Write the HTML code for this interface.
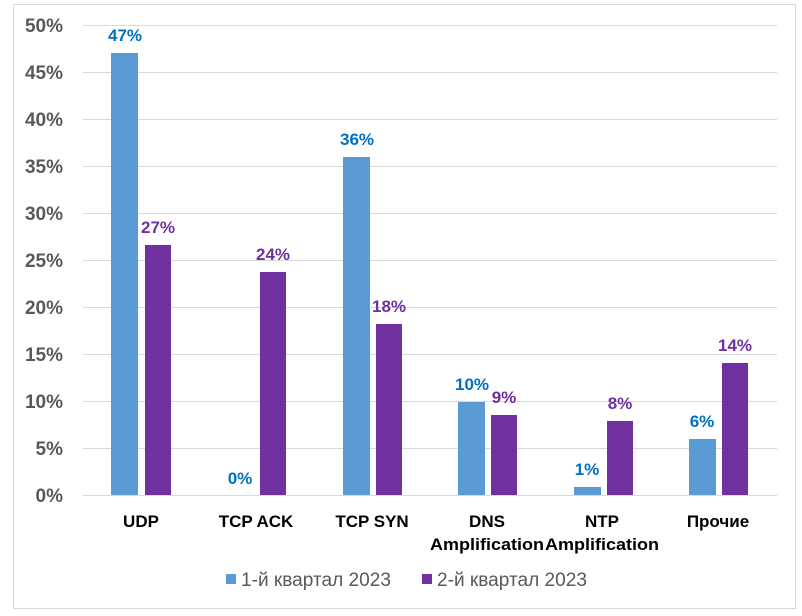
<!DOCTYPE html>
<html><head><meta charset="utf-8"><style>body{margin:0;background:#fff}svg{display:block}</style></head><body>
<svg width="802" height="616" xmlns="http://www.w3.org/2000/svg" font-family="'Liberation Sans', sans-serif">
<rect x="13.5" y="4.5" width="782" height="604" fill="#fff" stroke="#d9d9d9"/>
<g stroke="#d9d9d9" stroke-width="1">
<line x1="83" x2="777" y1="25.5" y2="25.5"/><line x1="83" x2="777" y1="72.5" y2="72.5"/>
<line x1="83" x2="777" y1="119.5" y2="119.5"/><line x1="83" x2="777" y1="166.5" y2="166.5"/>
<line x1="83" x2="777" y1="213.5" y2="213.5"/><line x1="83" x2="777" y1="260.5" y2="260.5"/>
<line x1="83" x2="777" y1="307.5" y2="307.5"/><line x1="83" x2="777" y1="354.5" y2="354.5"/>
<line x1="83" x2="777" y1="401.5" y2="401.5"/><line x1="83" x2="777" y1="448.5" y2="448.5"/>
<line x1="83" x2="777" y1="495.5" y2="495.5"/>
</g>
<g fill="#595959" font-weight="bold" font-size="19" text-anchor="end">
<text x="63" y="32">50%</text><text x="63" y="79">45%</text><text x="63" y="126">40%</text>
<text x="63" y="173">35%</text><text x="63" y="220">30%</text><text x="63" y="267">25%</text>
<text x="63" y="314">20%</text><text x="63" y="361">15%</text><text x="63" y="408">10%</text>
<text x="63" y="455">5%</text><text x="63" y="502">0%</text>
</g>
<g fill="#5b9bd5">
<rect x="111" y="53" width="27" height="442"/>
<rect x="343" y="157" width="27" height="338"/>
<rect x="458" y="402" width="27" height="93"/>
<rect x="574" y="487" width="27" height="8"/>
<rect x="689" y="439" width="27" height="56"/>
</g>
<g fill="#7030a0">
<rect x="145" y="245" width="26" height="250"/>
<rect x="260" y="272" width="26" height="223"/>
<rect x="376" y="324" width="26" height="171"/>
<rect x="491" y="415" width="26" height="80"/>
<rect x="607" y="421" width="26" height="74"/>
<rect x="722" y="363" width="26" height="132"/>
</g>
<g font-weight="bold" font-size="17" text-anchor="middle" fill="#0070c0">
<text x="125" y="41">47%</text><text x="240" y="484">0%</text><text x="357" y="145">36%</text>
<text x="472" y="390">10%</text><text x="587" y="475">1%</text><text x="702" y="427">6%</text>
</g>
<g font-weight="bold" font-size="17" text-anchor="middle" fill="#7030a0">
<text x="158" y="233">27%</text><text x="273" y="260">24%</text><text x="389" y="312">18%</text>
<text x="504" y="403">9%</text><text x="620" y="409">8%</text><text x="735" y="351">14%</text>
</g>
<g font-weight="bold" font-size="17" text-anchor="middle" fill="#000">
<text x="141" y="527">UDP</text><text x="256" y="527">TCP ACK</text><text x="372" y="527">TCP SYN</text>
<text x="487" y="527">DNS</text><text x="487" y="550" textLength="114" lengthAdjust="spacingAndGlyphs">Amplification</text>
<text x="602" y="527">NTP</text><text x="602" y="550" textLength="114" lengthAdjust="spacingAndGlyphs">Amplification</text>
<text x="718" y="527">Прочие</text>
</g>
<rect x="226" y="574" width="10" height="10" fill="#5b9bd5"/>
<text x="241" y="586" font-size="19" fill="#595959" textLength="150" lengthAdjust="spacingAndGlyphs">1-й квартал 2023</text>
<rect x="422" y="574" width="10" height="10" fill="#7030a0"/>
<text x="437" y="586" font-size="19" fill="#595959" textLength="150" lengthAdjust="spacingAndGlyphs">2-й квартал 2023</text>
</svg>
</body></html>
